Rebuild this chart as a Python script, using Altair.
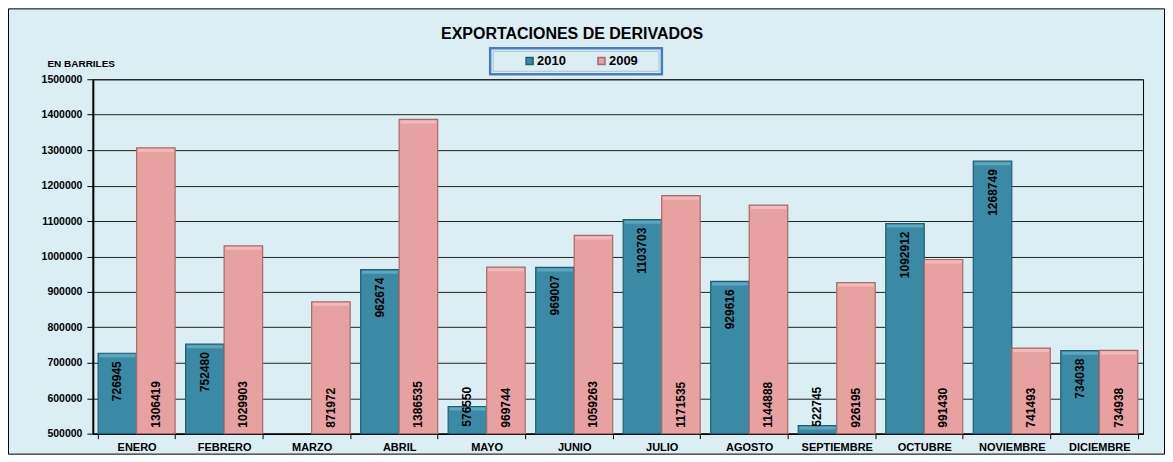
import altair as alt
import pandas as pd

months = ["ENERO", "FEBRERO", "MARZO", "ABRIL", "MAYO", "JUNIO", "JULIO",
          "AGOSTO", "SEPTIEMBRE", "OCTUBRE", "NOVIEMBRE", "DICIEMBRE"]
v2010 = [726945, 752480, None, 962674, 576550, 969007, 1103703, 929616,
         522745, 1092912, 1268749, 734038]
v2009 = [1306419, 1029903, 871972, 1386535, 969744, 1059263, 1171535,
         1144888, 926195, 991430, 741493, 734938]
series = ["2010", "2009"]
y_ticks = list(range(500000, 1500001, 100000))

rows = []
for m, a, b in zip(months, v2010, v2009):
    if a is not None:
        rows.append({"mes": m, "serie": "2010", "valor": a})
    rows.append({"mes": m, "serie": "2009", "valor": b})
df = pd.DataFrame(rows)

W, H = 1052, 355
BG = "#DAEEF3"
FONT = "Liberation Sans"
Y_MIN = 500000

x_axis = alt.Axis(title=None, labelAngle=0, tickBand="extent",
                  labelFontSize=11, labelFontWeight="bold",
                  labelColor="black", labelPadding=3, tickSize=5,
                  labelOverlap=False, labelLimit=200,
                  tickColor="black", domainColor="black",
                  domainWidth=1.5, grid=False)
x_scale = alt.Scale(paddingInner=0.12, paddingOuter=0.06)
xo_scale = alt.Scale(domain=series, paddingInner=0, paddingOuter=0)
y_scale = alt.Scale(domain=[Y_MIN, 1500000], zero=False, nice=False)
y_axis = alt.Axis(values=y_ticks, format="d", title="EN BARRILES",
                  titleAngle=0, titleAlign="left", titleBaseline="middle",
                  titleX=-46, titleY=-16, titleFontSize=10,
                  titleFontWeight="bold", titleColor="black",
                  labelFontSize=10.5, labelFontWeight="bold",
                  labelColor="black", labelPadding=5, tickSize=6,
                  labelOverlap=False, tickCount=11,
                  tickColor="black", domainColor="black", domainWidth=2,
                  grid=True, gridColor="#222222", gridWidth=1)

X = alt.X("mes:N", sort=months, scale=x_scale, axis=x_axis)
XO = alt.XOffset("serie:N", scale=xo_scale)

base = alt.Chart(df)

bars = base.mark_bar(strokeWidth=1.2).encode(
    x=X,
    xOffset=XO,
    y=alt.Y("valor:Q", scale=y_scale, axis=y_axis),
    y2=alt.datum(Y_MIN),
    color=alt.Color("serie:N",
                    scale=alt.Scale(domain=series, range=["#3A8AA5", "#E6A1A0"]),
                    legend=alt.Legend(
                        title=None, orient="none", legendX=398, legendY=-32,
                        direction="horizontal", symbolType="square",
                        symbolSize=49, symbolOffset=26, columnPadding=3,
                        labelFontSize=13, labelFontWeight="bold",
                        labelColor="black", labelOffset=1, padding=7)),
    stroke=alt.Stroke("serie:N",
                      scale=alt.Scale(domain=series, range=["#225F73", "#A86A6A"]),
                      legend=None),
)

tops = base.mark_tick(thickness=3, size=36, yOffset=2.5).encode(
    x=X,
    xOffset=XO,
    y=alt.Y("valor:Q", scale=y_scale, axis=y_axis),
    fill=alt.Fill("serie:N",
                  scale=alt.Scale(domain=series, range=["#6DB3CB", "#F4C6C5"]),
                  legend=None),
)

lab2010 = base.transform_filter("datum.serie == '2010'").transform_calculate(
    ly="max(datum.valor, 655000)"
).mark_text(angle=270, align="right", baseline="middle", dx=-8,
            fontSize=12, fontWeight="bold", color="black").encode(
    x=X,
    xOffset=XO,
    y=alt.Y("ly:Q", scale=y_scale, axis=y_axis),
    text=alt.Text("valor:Q", format="d"),
)

lab2009 = base.transform_filter("datum.serie == '2009'").transform_calculate(
    ly=str(Y_MIN)
).mark_text(angle=270, align="left", baseline="middle", dx=6,
            fontSize=12, fontWeight="bold", color="black").encode(
    x=X,
    xOffset=XO,
    y=alt.Y("ly:Q", scale=y_scale, axis=y_axis),
    text=alt.Text("valor:Q", format="d"),
)

one = pd.DataFrame({"k": [0]})

frame = alt.Chart(one).mark_rect(
    fillOpacity=0, stroke="black", strokeWidth=1
).encode(
    x=alt.value(-84.5), x2=alt.value(W + 21.5),
    y=alt.value(-70.5), y2=alt.value(H + 20.5),
)

legend_box_outer = alt.Chart(one).mark_rect(
    fillOpacity=0, stroke="#4A7EBB", strokeWidth=2.5
).encode(
    x=alt.value(398), x2=alt.value(570),
    y=alt.value(-31), y2=alt.value(-5),
)
legend_box_inner = alt.Chart(one).mark_rect(
    fillOpacity=0, stroke="#A9C1E0", strokeWidth=1
).encode(
    x=alt.value(401), x2=alt.value(567),
    y=alt.value(-28), y2=alt.value(-8),
)

chart = alt.layer(frame, legend_box_outer, legend_box_inner,
                  bars, tops, lab2010, lab2009).properties(
    width=W, height=H,
    title=alt.TitleParams("EXPORTACIONES DE DERIVADOS", fontSize=16,
                          fontWeight="bold", color="black", font=FONT,
                          anchor="middle", dx=-46, dy=38),
    autosize=alt.AutoSizeParams(type="none"),
    padding={"left": 85, "top": 71, "right": 22, "bottom": 21},
    background=BG,
).configure(font=FONT).configure_view(stroke="black", strokeWidth=1)

chart.save("out.html", embed_options={"renderer": "svg", "actions": False})
